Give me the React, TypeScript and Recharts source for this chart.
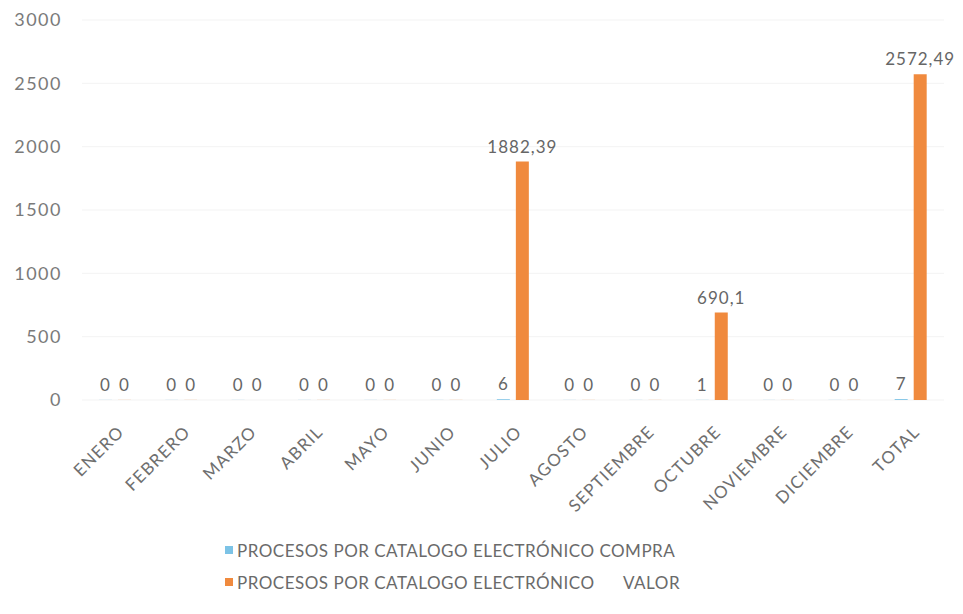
import { BarChart, Bar, XAxis, YAxis, CartesianGrid, Legend, LabelList } from 'recharts';

const months = [
  'ENERO', 'FEBRERO', 'MARZO', 'ABRIL', 'MAYO', 'JUNIO', 'JULIO',
  'AGOSTO', 'SEPTIEMBRE', 'OCTUBRE', 'NOVIEMBRE', 'DICIEMBRE', 'TOTAL',
];
const compra = [0, 0, 0, 0, 0, 0, 6, 0, 0, 1, 0, 0, 7];
const valor = [0, 0, 0, 0, 0, 0, 1882.39, 0, 0, 690.1, 0, 0, 2572.49];
const yTicks = [0, 500, 1000, 1500, 2000, 2500, 3000];

const compraName = 'PROCESOS POR CATALOGO ELECTRÓNICO COMPRA';
const valorName = 'PROCESOS POR CATALOGO ELECTRÓNICO      VALOR';

const data = months.map((m, i) => ({ month: m, compra: compra[i], valor: valor[i] }));

const FONT = 'Lato, "Open Sans", sans-serif';
const BLUE = '#7cc3e6';
const ORANGE = '#f08a3e';

const fmt = (v: any) => String(v).replace('.', ',');

function AngledTick(props: any) {
  const { x, y, payload } = props;
  return (
    <g transform={`translate(${x + 10},${y + 25})`}>
      <text
        textAnchor="end"
        transform="rotate(-45)"
        fill="#6f6f6f"
        fontSize={17}
        letterSpacing={1.2}
        fontFamily={FONT}
      >
        {payload.value}
      </text>
    </g>
  );
}

function LegendBox() {
  const items = [
    { name: compraName, color: BLUE },
    { name: valorName, color: ORANGE },
  ];
  return (
    <div style={{ height: 90, paddingTop: 20, boxSizing: 'border-box', fontFamily: FONT }}>
      {items.map((it) => (
        <div key={it.color} style={{ height: 32, display: 'flex', alignItems: 'center', whiteSpace: 'pre' }}>
          <span style={{ width: 8, height: 8, background: it.color, marginRight: 4, display: 'inline-block' }} />
          <span style={{ fontSize: 17, letterSpacing: 0.5, color: '#6a6a6a' }}>{it.name}</span>
        </div>
      ))}
    </div>
  );
}

export default function App() {
  return (
    <div style={{ position: 'absolute', left: 0, top: 0, background: '#fff' }}>
      <BarChart
        width={963}
        height={614}
        data={data}
        margin={{ top: 20, right: 19, left: 0, bottom: 10 }}
        barSize={13}
        barGap={6}
      >
        <CartesianGrid vertical={false} stroke="#f3f3f3" />
        <XAxis
          dataKey="month"
          axisLine={false}
          tickLine={false}
          interval={0}
          height={114}
          tick={<AngledTick />}
        />
        <YAxis
          width={82}
          domain={[0, 3000]}
          ticks={yTicks}
          axisLine={false}
          tickLine={false}
          tickSize={0}
          tickMargin={20}
          tick={{ fill: '#7a7a7a', fontSize: 18, letterSpacing: 1.5, fontFamily: FONT }}
        />
        <Legend
          verticalAlign="bottom"
          wrapperStyle={{ left: 225, top: 514, width: 'auto' }}
          content={() => <LegendBox />}
        />
        <Bar dataKey="compra" name={compraName} fill={BLUE} minPointSize={0.1} isAnimationActive={false}>
          <LabelList dataKey="compra" position="top" offset={9} fill="#666" fontSize={17} letterSpacing={1} fontFamily={FONT} formatter={fmt} />
        </Bar>
        <Bar dataKey="valor" name={valorName} fill={ORANGE} minPointSize={0.1} isAnimationActive={false}>
          <LabelList dataKey="valor" position="top" offset={9} fill="#666" fontSize={17} letterSpacing={1} fontFamily={FONT} formatter={fmt} />
        </Bar>
      </BarChart>
    </div>
  );
}
